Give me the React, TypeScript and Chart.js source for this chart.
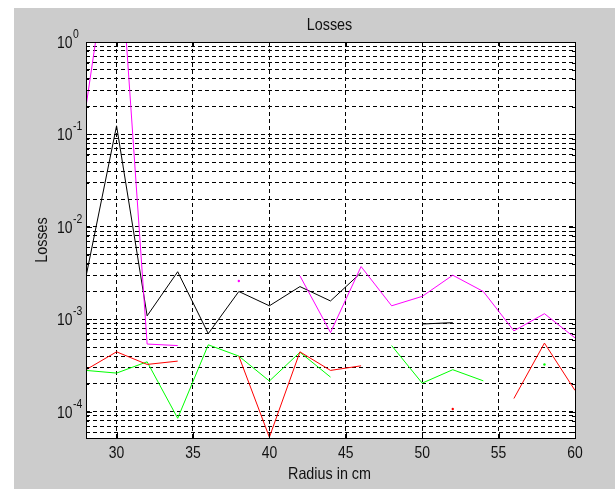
import React, { useEffect, useRef } from 'react';
import { Chart, registerables } from 'chart.js';

Chart.register(...registerables);

// ---- data ----
const radius = [28, 30, 32, 34, 36, 38, 40, 42, 44, 46, 48, 50, 52, 54, 56, 58, 60];
const magentaLoss = [0.2, 35, 5.4e-4, 5.2e-4, null, 2.6e-3, null, 2.95e-3, 7.2e-4, 3.72e-3, 1.4e-3, 1.77e-3, 3.0e-3, 2.0e-3, 7.5e-4, 1.15e-3, 6.3e-4];
const blackLoss = [2.9e-3, 0.124, 1.09e-3, 3.27e-3, 7.0e-4, 2.0e-3, 1.4e-3, 2.26e-3, 1.58e-3, 3.2e-3, null, 8.9e-4, 9.2e-4, null, null, null, null];
const greenLoss = [2.8e-4, 2.62e-4, 3.47e-4, 8.5e-5, 5.3e-4, 4.0e-4, 2.15e-4, 4.4e-4, 2.37e-4, null, 5.2e-4, 2.04e-4, 2.85e-4, 2.16e-4, null, 3.25e-4, null];
const redLoss = [2.85e-4, 4.45e-4, 3.25e-4, 3.53e-4, null, 4.0e-4, 5.3e-5, 4.45e-4, 2.8e-4, 3.14e-4, null, null, 1.07e-4, null, 1.39e-4, 5.53e-4, 1.7e-4];

const xTicks = [30, 35, 40, 45, 50, 55, 60];
const yExponents = [-4, -3, -2, -1, 0];
const yMinorMultipliers = [1, 2, 3, 4, 5, 6, 7, 8, 9];
const X_MIN = 28;
const X_MAX = 60;
const Y_MIN = 5.2e-5;
const Y_MAX = 1;

const TITLE = 'Losses';
const X_TITLE = 'Radius in cm';
const Y_TITLE = 'Losses';

const FONT = "'Liberation Sans', Arial, sans-serif";
const TEXT = '#111111';
const SX = 0.87; // narrow face

function gridValues(): number[] {
  const out: number[] = [];
  for (let e = -5; e <= 0; e++) {
    for (const m of yMinorMultipliers) {
      const v = m * Math.pow(10, e);
      if (v >= Y_MIN * 0.999 && v <= Y_MAX * 1.001) out.push(v);
    }
  }
  return out;
}

function toPoints(arr: (number | null)[]) {
  return radius.map((x, i) => ({ x, y: arr[i] }));
}

function drawText(ctx: CanvasRenderingContext2D, text: string, x: number, y: number, size: number, align: CanvasTextAlign, rot = 0) {
  ctx.save();
  ctx.translate(x, y);
  if (rot) ctx.rotate(rot);
  ctx.scale(SX, 1);
  ctx.font = `${size}px ${FONT}`;
  ctx.fillStyle = TEXT;
  ctx.textAlign = align;
  ctx.textBaseline = 'alphabetic';
  ctx.fillText(text, 0, 0);
  ctx.restore();
}

const isolatedRadius = (ctx: any) => {
  const d = ctx.dataset.data;
  const i = ctx.dataIndex;
  const cur = d[i] && d[i].y;
  const prev = d[i - 1] ? d[i - 1].y : null;
  const next = d[i + 1] ? d[i + 1].y : null;
  return cur != null && prev == null && next == null ? 1.2 : 0;
};

const framePlugin = {
  id: 'frame',
  beforeDraw(chart: any) {
    const { ctx, width, height, chartArea: a } = chart;
    ctx.save();
    ctx.fillStyle = '#ffffff';
    ctx.fillRect(0, 0, width, height);
    ctx.fillStyle = '#cccccc';
    ctx.fillRect(14, 8, width - 14, height - 8);
    ctx.fillStyle = '#ffffff';
    ctx.fillRect(a.left, a.top, a.right - a.left, a.bottom - a.top);
    ctx.restore();
  },
  afterDraw(chart: any) {
    const { ctx, chartArea: a } = chart;
    const xs = chart.scales.x;
    const ys = chart.scales.y;
    ctx.save();
    ctx.strokeStyle = '#000';
    ctx.lineWidth = 1;
    // tick marks inside
    ctx.beginPath();
    for (const v of xTicks) {
      const px = Math.round(xs.getPixelForValue(v)) + 0.5;
      ctx.moveTo(px, a.bottom);
      ctx.lineTo(px, a.bottom - 5);
      ctx.moveTo(px, a.top);
      ctx.lineTo(px, a.top + 5);
    }
    for (const v of gridValues()) {
      const py = Math.round(ys.getPixelForValue(v)) + 0.5;
      const major = Math.abs(Math.log10(v) - Math.round(Math.log10(v))) < 1e-9;
      const len = major ? 6 : 3;
      ctx.moveTo(a.left, py);
      ctx.lineTo(a.left + len, py);
      ctx.moveTo(a.right, py);
      ctx.lineTo(a.right - len, py);
    }
    ctx.stroke();
    // box
    ctx.strokeRect(Math.round(a.left) + 0.5, Math.round(a.top) + 0.5, Math.round(a.right - a.left), Math.round(a.bottom - a.top));
    ctx.restore();

    const cx = (a.left + a.right) / 2 - 1;
    // title
    drawText(ctx, TITLE, cx, a.top - 12, 16.5, 'center');
    // x tick labels
    for (const v of xTicks) {
      drawText(ctx, String(v), xs.getPixelForValue(v), a.bottom + 20, 16, 'center');
    }
    // x title
    drawText(ctx, X_TITLE, cx, a.bottom + 41, 16.5, 'center');
    // y title
    drawText(ctx, Y_TITLE, a.left - 39.5, (a.top + a.bottom) / 2, 16.5, 'center', -Math.PI / 2);
    // y tick labels 10^n
    for (const e of yExponents) {
      const py = ys.getPixelForValue(Math.pow(10, e));
      drawText(ctx, '10', a.left - 29, py + 6, 16, 'left');
      ctx.save();
      ctx.font = `16px ${FONT}`;
      const w = ctx.measureText('10').width * SX;
      ctx.restore();
      drawText(ctx, String(e), a.left - 29 + w + 0.5, py - 4, 12, 'left');
    }
  },
};

export default function App() {
  const ref = useRef<HTMLCanvasElement | null>(null);
  useEffect(() => {
    if (!ref.current) return;
    const lineDs = (data: (number | null)[], color: string) => ({
      data: toPoints(data),
      borderColor: color,
      backgroundColor: color,
      borderWidth: 1,
      pointRadius: isolatedRadius,
      pointBorderWidth: 0,
      pointHoverRadius: 0,
      tension: 0,
      spanGaps: false,
      fill: false,
    });
    const chart = new Chart(ref.current, {
      type: 'line',
      data: {
        datasets: [
          lineDs(redLoss, '#ff0000'),
          lineDs(greenLoss, '#00ff00'),
          lineDs(magentaLoss, '#ff00ff'),
          lineDs(blackLoss, '#000000'),
        ] as any,
      },
      plugins: [framePlugin],
      options: {
        responsive: false,
        animation: false,
        devicePixelRatio: 1,
        layout: { padding: { left: 0, right: 40, top: 42, bottom: 0 } },
        plugins: {
          legend: { display: false },
          tooltip: { enabled: false },
          title: { display: false },
        },
        scales: {
          x: {
            type: 'linear',
            min: X_MIN,
            max: X_MAX,
            afterBuildTicks: (s: any) => {
              s.ticks = xTicks.map((v) => ({ value: v }));
            },
            afterFit: (s: any) => {
              s.height = 51;
            },
            grid: { color: '#000', lineWidth: 1, drawTicks: false },
            border: { display: false, dash: [4, 3] },
            ticks: { display: false, autoSkip: false },
            title: { display: false },
          },
          y: {
            type: 'logarithmic',
            min: Y_MIN,
            max: Y_MAX,
            afterBuildTicks: (s: any) => {
              s.ticks = gridValues().map((v) => ({ value: v }));
            },
            afterFit: (s: any) => {
              s.width = 86;
            },
            grid: { color: '#000', lineWidth: 1, drawTicks: false },
            border: { display: false, dash: [4, 3] },
            ticks: { display: false, autoSkip: false },
            title: { display: false },
          },
        },
      } as any,
    });
    return () => chart.destroy();
  }, []);
  return (
    <div style={{ position: 'absolute', left: 0, top: 0, width: 615, height: 489 }}>
      <canvas ref={ref} width={615} height={489} style={{ display: 'block', width: 615, height: 489 }} />
    </div>
  );
}
